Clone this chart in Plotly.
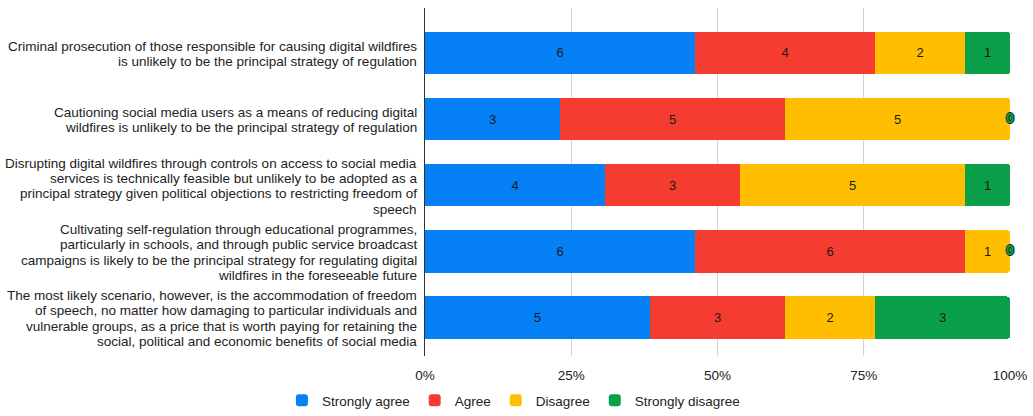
import plotly.graph_objects as go

categories = [
    "Criminal prosecution of those responsible for causing digital wildfires<br>is unlikely to be the principal strategy of regulation",
    "Cautioning social media users as a means of reducing digital<br>wildfires is unlikely to be the principal strategy of regulation",
    "Disrupting digital wildfires through controls on access to social media<br>services is technically feasible but unlikely to be adopted as a<br>principal strategy given political objections to restricting freedom of<br>speech",
    "Cultivating self-regulation through educational programmes,<br>particularly in schools, and through public service broadcast<br>campaigns is likely to be the principal strategy for regulating digital<br>wildfires in the foreseeable future",
    "The most likely scenario, however, is the accommodation of freedom<br>of speech, no matter how damaging to particular individuals and<br>vulnerable groups, as a price that is worth paying for retaining the<br>social, political and economic benefits of social media",
]
series_names = ["Strongly agree", "Agree", "Disagree", "Strongly disagree"]
strongly_agree = [6, 3, 4, 6, 5]
agree = [4, 5, 3, 6, 3]
disagree = [2, 5, 5, 1, 2]
strongly_disagree = [1, 0, 1, 0, 3]
colors = ["#0581f5", "#f53c30", "#ffbf00", "#0aa04a"]
tick_vals = [0, 25, 50, 75, 100]
tick_text = ["0%", "25%", "50%", "75%", "100%"]

series_values = [strongly_agree, agree, disagree, strongly_disagree]
font_family = "Liberation Sans, Arial, sans-serif"
label_size = 13.5
line_step = 15.3

fig = go.Figure()
for name, vals, col in zip(series_names, series_values, colors):
    fig.add_trace(go.Bar(
        name=name, y=categories, x=vals, orientation="h",
        marker=dict(color=col, line=dict(width=0)),
        text=[str(v) if v else "" for v in vals],
        textposition="inside", insidetextanchor="middle", textangle=0,
        textfont=dict(color="#1a1a1a", size=13, family=font_family),
        hoverinfo="x+name",
    ))

# zero-value labels at the end of the stacks
totals = [sum(s[i] for s in series_values) for i in range(len(categories))]
zx, zy, zt = [], [], []
for k, vals in enumerate(series_values):
    for i, v in enumerate(vals):
        if v == 0:
            cum = sum(series_values[j][i] for j in range(k + 1))
            zx.append(cum / totals[i] * 100)
            zy.append(categories[i])
            zt.append("<b>0</b>")
fig.add_trace(go.Scatter(
    x=zx, y=zy, text=zt, mode="text", showlegend=False, hoverinfo="skip",
    cliponaxis=False,
    textfont=dict(color="#0aa04a", size=14.5, family=font_family,
                  shadow="1px 0 0 #0a2a14, -1px 0 0 #0a2a14, 0 1px 0 #0a2a14, 0 -1px 0 #0a2a14"),
))

# category labels, one annotation per line for tight line spacing
for cat in categories:
    lines = cat.split("<br>")
    n = len(lines)
    for j, line in enumerate(lines):
        fig.add_annotation(
            x=0, xref="paper", y=cat, yref="y", text=line, showarrow=False,
            xanchor="right", yanchor="middle", align="right",
            xshift=-6, yshift=((n - 1) / 2 - j) * line_step - 1,
            font=dict(size=label_size, color="#222222", family=font_family),
        )

fig.update_layout(
    template="none",
    barmode="stack", barnorm="percent", bargap=0.36, barcornerradius=3,
    width=1033, height=416,
    margin=dict(l=425, r=23, t=8, b=60),
    paper_bgcolor="white", plot_bgcolor="white",
    font=dict(family=font_family, size=13, color="#222222"),
    legend=dict(orientation="h", xref="container", x=0.497, xanchor="center",
                yref="container", y=-0.028, yanchor="bottom",
                font=dict(size=13.5, color="#222222"), itemwidth=30,
                traceorder="normal", bgcolor="rgba(0,0,0,0)"),
    showlegend=True,
)
fig.update_xaxes(range=[0, 100], tickvals=tick_vals, ticktext=tick_text,
                 automargin=False,
                 showgrid=True, gridcolor="#d4d4d4", gridwidth=1,
                 zeroline=False, showline=False, ticks="", ticklabelstandoff=9,
                 tickfont=dict(size=13.5, color="#222222"))
fig.update_yaxes(autorange=False, range=[4.58, -0.68], showgrid=False,
                 automargin=False, showticklabels=False,
                 showline=True, linecolor="#333333", linewidth=1, ticks="")

fig.write_html("out.html", config={"displayModeBar": False},
               post_script="document.body.style.margin='0';document.body.style.padding='0';")
